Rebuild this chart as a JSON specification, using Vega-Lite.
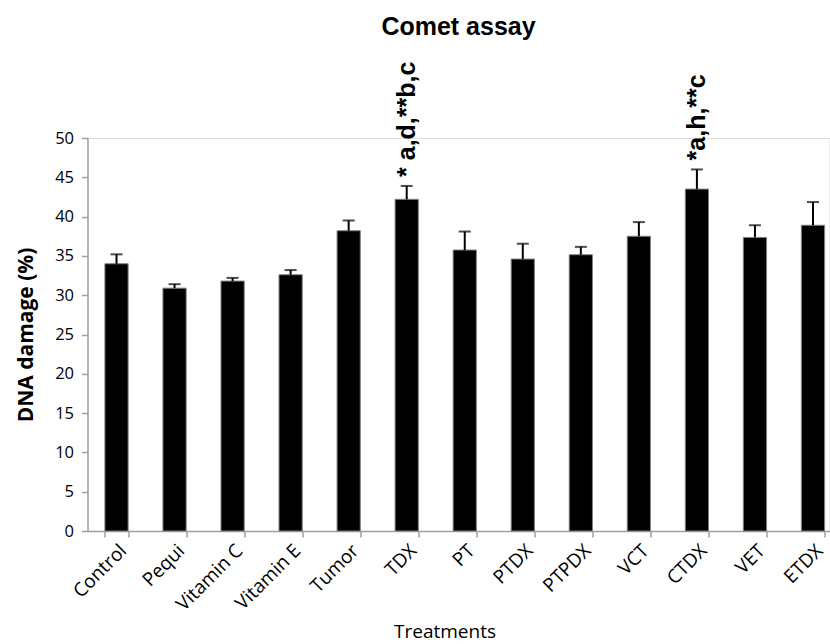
{
  "$schema": "https://vega.github.io/schema/vega-lite/v6.json",
  "width": 742,
  "height": 393,
  "autosize": {"type": "none"},
  "padding": {"left": 87.5, "top": 138, "right": 0, "bottom": 113},
  "background": "white",
  "title": {"text": "Comet assay", "font": "Liberation Sans", "fontSize": 25, "fontWeight": "bold", "color": "black", "offset": 2, "baseline": "alphabetic", "anchor": "middle"},
  "data": {"values": [
    {"treatment": "Control", "value": 34.0, "err": 35.2},
    {"treatment": "Pequi", "value": 30.9, "err": 31.4},
    {"treatment": "Vitamin C", "value": 31.8, "err": 32.2},
    {"treatment": "Vitamin E", "value": 32.6, "err": 33.2},
    {"treatment": "Tumor", "value": 38.2, "err": 39.5},
    {"treatment": "TDX", "value": 42.2, "err": 43.9, "label": "* a,d,**b,c"},
    {"treatment": "PT", "value": 35.75, "err": 38.1},
    {"treatment": "PTDX", "value": 34.6, "err": 36.55},
    {"treatment": "PTPDX", "value": 35.15, "err": 36.15},
    {"treatment": "VCT", "value": 37.5, "err": 39.3},
    {"treatment": "CTDX", "value": 43.5, "err": 46.0, "label": "*a,h,**c"},
    {"treatment": "VET", "value": 37.35, "err": 38.9},
    {"treatment": "ETDX", "value": 38.9, "err": 41.85}
  ]},
  "encoding": {
    "x": {
      "field": "treatment", "type": "nominal", "sort": null,
      "scale": {"range": [0, 754.5], "paddingInner": 0.6, "paddingOuter": 0.3},
      "axis": {
        "title": "Treatments", "titleFont": "Open Sans", "titleFontSize": 19, "titleFontWeight": "normal", "titleColor": "black",
        "titleX": 357, "titleY": 106, "titleBaseline": "alphabetic", "titleAlign": "center", "titleAnchor": null,
        "labelAngle": -45, "labelFont": "Open Sans", "labelFontSize": 19, "labelColor": "black", "labelPadding": 4,
        "domainColor": "#a0a0a0", "domainWidth": 1.5, "tickColor": "#a0a0a0", "tickWidth": 1.5, "tickSize": 6, "tickBand": "extent", "grid": false
      }
    },
    "y": {
      "field": "value", "type": "quantitative",
      "scale": {"domain": [0, 50], "nice": false},
      "axis": {
        "title": "DNA damage (%)", "titleFont": "Open Sans", "titleFontSize": 21, "titleFontWeight": "bold", "titleColor": "black", "titlePadding": 18,
        "values": [0, 5, 10, 15, 20, 25, 30, 35, 40, 45, 50], "labelOverlap": false,
        "labelFont": "Open Sans", "labelFontSize": 16.5, "labelColor": "black", "labelPadding": 8,
        "domainColor": "#a0a0a0", "domainWidth": 1.5, "tickColor": "#a0a0a0", "tickWidth": 1.5, "tickSize": 6, "grid": false
      }
    }
  },
  "layer": [
    {
      "mark": {"type": "bar", "color": "black", "stroke": "#808080", "strokeWidth": 1}
    },
    {
      "mark": {"type": "rule", "color": "black", "strokeWidth": 2},
      "encoding": {"y2": {"field": "err"}}
    },
    {
      "mark": {"type": "tick", "color": "black", "thickness": 2, "size": 12},
      "encoding": {"y": {"field": "err", "type": "quantitative"}}
    },
    {
      "transform": [{"filter": "datum.label != null"}],
      "mark": {"type": "text", "angle": 270, "align": "left", "baseline": "middle", "dx": 9, "font": "Liberation Sans", "fontSize": 25, "fontWeight": "bold", "color": "black"},
      "encoding": {"y": {"field": "err", "type": "quantitative"}, "text": {"field": "label"}}
    }
  ]
}
